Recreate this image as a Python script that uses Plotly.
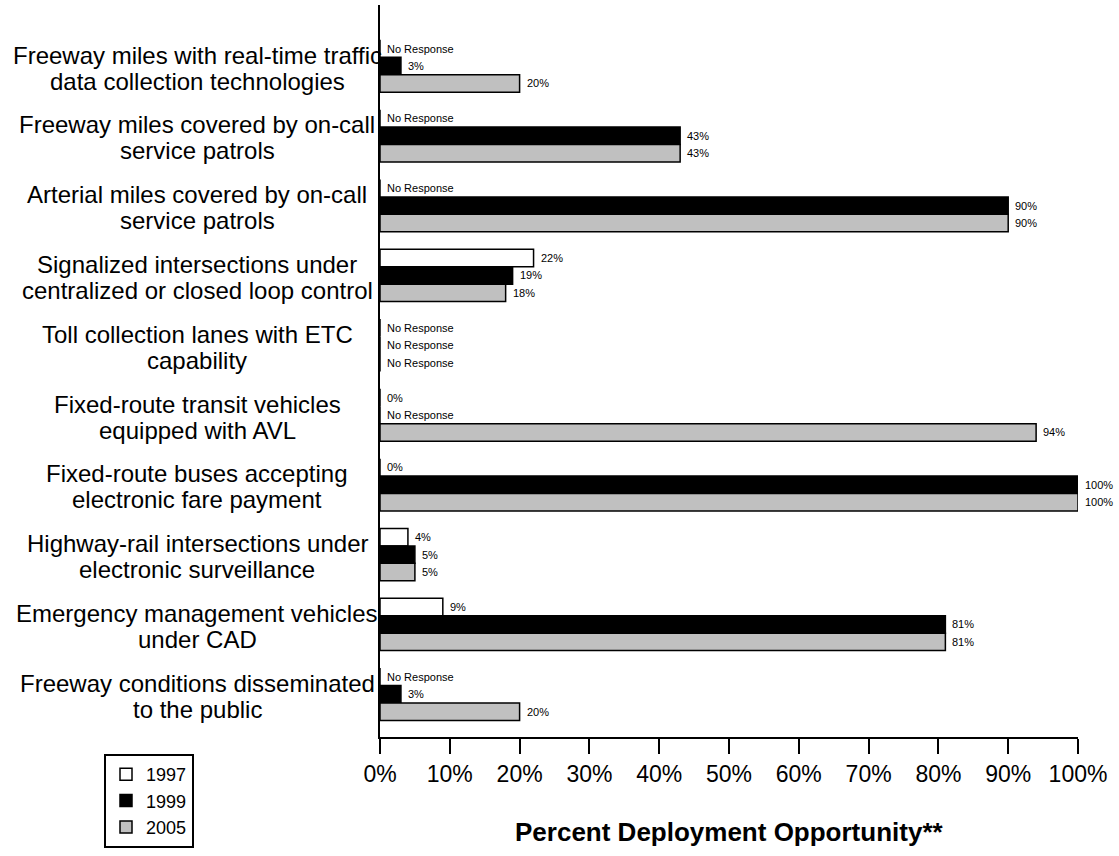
import plotly.graph_objects as go

# Deployment categories (two lines each)
categories = [
    ["Freeway miles with real-time traffic", "data collection technologies"],
    ["Freeway miles covered by on-call", "service patrols"],
    ["Arterial miles covered by on-call", "service patrols"],
    ["Signalized intersections under", "centralized or closed loop control"],
    ["Toll collection lanes with ETC", "capability"],
    ["Fixed-route transit vehicles", "equipped with AVL"],
    ["Fixed-route buses accepting", "electronic fare payment"],
    ["Highway-rail intersections under", "electronic surveillance"],
    ["Emergency management vehicles", "under CAD"],
    ["Freeway conditions disseminated", "to the public"],
]

years = ["1997", "1999", "2005"]

# Percent deployment; None = no response
values_1997 = [None, None, None, 22, None, 0, 0, 4, 9, None]
values_1999 = [3, 43, 90, 19, None, None, 100, 5, 81, 3]
values_2005 = [20, 43, 90, 18, None, 94, 100, 5, 81, 20]

x_ticks = [0, 10, 20, 30, 40, 50, 60, 70, 80, 90, 100]
x_tick_labels = [f"{t}%" for t in x_ticks]

series = [values_1997, values_1999, values_2005]
fills = ["#FFFFFF", "#000000", "#C0C0C0"]

FONT = "Liberation Sans, Arial, sans-serif"

fig = go.Figure()
idx = list(range(len(categories)))
for name, vals, fill in zip(years, series, fills):
    fig.add_trace(go.Bar(
        name=name,
        orientation="h",
        y=idx,
        x=[v if v is not None else 0 for v in vals],
        marker=dict(color=fill, line=dict(color="#000000", width=1.5)),
        hoverinfo="skip",
    ))

# value labels beside each bar
offsets = [-0.25, 0.0, 0.25]
annotations = []
for vals, off in zip(series, offsets):
    for i, v in enumerate(vals):
        annotations.append(dict(
            x=v if v is not None else 0, y=i + off, xref="x", yref="y",
            text="No Response" if v is None else f"{v}%",
            showarrow=False, xanchor="left", yanchor="middle", xshift=5,
            font=dict(family=FONT, size=11, color="#000000"),
        ))

# category labels, centred in the left margin
PLOT_L, PLOT_R = 380, 1078
label_center = (197 - PLOT_L) / (PLOT_R - PLOT_L)
LINE_GAP = 26
for i, lines in enumerate(categories):
    for k, line in enumerate(lines):
        annotations.append(dict(
            x=label_center, y=i, xref="paper", yref="y", text=line,
            showarrow=False, xanchor="center", yanchor="middle", align="center",
            yshift=LINE_GAP / 2 - k * LINE_GAP - 2,
            font=dict(family=FONT, size=24, color="#000000"),
        ))

# axis title
annotations.append(dict(
    x=0.5, y=(737 - 832) / 732, xref="paper", yref="paper",
    text="<b>Percent Deployment Opportunity**</b>",
    showarrow=False, xanchor="center", yanchor="middle",
    font=dict(family=FONT, size=26, color="#000000"),
))

fig.update_layout(
    width=1119, height=856,
    margin=dict(l=PLOT_L, r=1119 - PLOT_R, t=5, b=119, autoexpand=False),
    paper_bgcolor="white", plot_bgcolor="white",
    barmode="group", bargap=0.25, bargroupgap=0,
    font=dict(family=FONT, color="#000000"),
    annotations=annotations,
    showlegend=True,
    legend=dict(
        x=(104 - PLOT_L) / (PLOT_R - PLOT_L), xanchor="left",
        y=(737 - 754) / 732, yanchor="top",
        bgcolor="white", bordercolor="#000000", borderwidth=2,
        font=dict(family=FONT, size=18, color="#000000"),
        traceorder="normal",
    ),
    xaxis=dict(
        range=[0, 100], tickvals=x_ticks, ticktext=x_tick_labels,
        showgrid=False, zeroline=False, showline=True, linecolor="#000000",
        linewidth=2, ticks="outside", ticklen=15, tickwidth=2, tickcolor="#000000",
        tickfont=dict(family=FONT, size=23, color="#000000"),
    ),
    yaxis=dict(
        range=[9.613, -0.874], showticklabels=False, showgrid=False,
        zeroline=False, showline=True, linecolor="#000000", linewidth=2, ticks="",
    ),
)

fig.write_html("out.html")
